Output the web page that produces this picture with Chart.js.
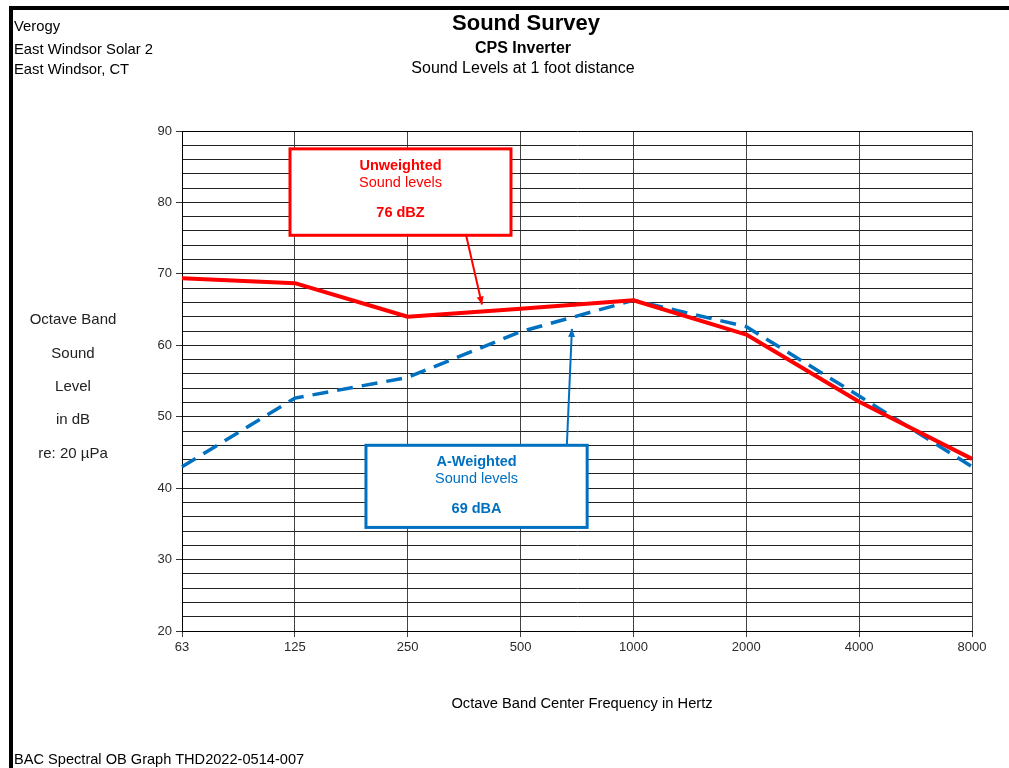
<!DOCTYPE html>
<html>
<head>
<meta charset="utf-8">
<script src="https://cdn.jsdelivr.net/npm/chart.js@4.4.0/dist/chart.umd.min.js"></script>
<style>
  html, body { margin: 0; padding: 0; background: #fff; }
  #page { position: relative; width: 1009px; height: 768px; overflow: hidden;
          font-family: "Liberation Sans", Arial, sans-serif; color: #000; }
  #frame { position: absolute; left: 9px; top: 6px; width: 1010px; height: 800px;
           border-top: 4px solid #000; border-left: 4px solid #000; }
  canvas { position: absolute; left: 0; top: 0; }
  .t { position: absolute; white-space: nowrap; transform: translateY(-50%); line-height: 1; }
  .c { transform: translate(-50%, -50%); }
</style>
</head>
<body>
<div id="page">
  <div id="frame"></div>
  <canvas id="chart" width="1009" height="768"></canvas>

  <div class="t" style="left:14px;top:26px;font-size:14.8px;">Verogy</div>
  <div class="t" style="left:14px;top:49px;font-size:14.8px;">East Windsor Solar 2</div>
  <div class="t" style="left:14px;top:69px;font-size:14.8px;">East Windsor, CT</div>

  <div class="t c" style="left:526px;top:23px;font-size:22px;font-weight:bold;">Sound Survey</div>
  <div class="t c" style="left:523px;top:48px;font-size:16px;font-weight:bold;">CPS Inverter</div>
  <div class="t c" style="left:523px;top:68px;font-size:16px;">Sound Levels at 1 foot distance</div>

  <div class="t c" style="left:73px;top:318px;font-size:15px;color:#222;">Octave Band</div>
  <div class="t c" style="left:73px;top:352px;font-size:15px;color:#222;">Sound</div>
  <div class="t c" style="left:73px;top:385px;font-size:15px;color:#222;">Level</div>
  <div class="t c" style="left:73px;top:418px;font-size:15px;color:#222;">in dB</div>
  <div class="t c" style="left:73px;top:452px;font-size:15px;color:#222;">re: 20 µPa</div>

  <div class="t c" style="left:582px;top:703px;font-size:14.7px;">Octave Band Center Frequency in Hertz</div>
  <div class="t" style="left:14px;top:759px;font-size:14.6px;">BAC Spectral OB Graph THD2022-0514-007</div>
</div>

<script>
// Octave band centre frequencies (Hz)
const frequencies = ['63', '125', '250', '500', '1000', '2000', '4000', '8000'];

// Measured octave band levels, dB re 20 µPa
const unweightedLevels = [69.4, 68.7, 64.0, 65.1, 66.3, 61.5, 52.1, 44.1];
const aWeightedLevels  = [43.0, 52.6, 55.5, 61.9, 66.3, 62.6, 52.9, 43.0];

// Overall levels shown in the callouts
const overallLabels = ['76 dBZ', '69 dBA'];

// Vertical axis range and grid step
const yMin = 20, yMax = 90, yStep = 2, yLabelStep = 10;

const RED = '#FF0000';
const BLUE = '#0070C0';

// Callout boxes in chart coordinates (x = band index, y = dB)
const callouts = [
  { color: RED,  title: 'Unweighted', sub: 'Sound levels', value: overallLabels[0],
    x0: 0.957, x1: 2.915, y0: 87.5, y1: 75.4,
    arrow: { fx: 2.516, fy: 75.5, tx: 2.658, ty: 65.7 } },
  { color: BLUE, title: 'A-Weighted', sub: 'Sound levels', value: overallLabels[1],
    x0: 1.63, x1: 3.59, y0: 46.0, y1: 34.5,
    arrow: { fx: 3.41, fy: 46.0, tx: 3.455, ty: 62.3 } }
];

const calloutPlugin = {
  id: 'callouts',
  afterDatasetsDraw(chart) {
    const { ctx, scales: { x, y } } = chart;
    ctx.save();
    callouts.forEach(c => {
      const left = x.getPixelForValue(c.x0), right = x.getPixelForValue(c.x1);
      const top = y.getPixelForValue(c.y0), bottom = y.getPixelForValue(c.y1);
      // arrow
      const ax = x.getPixelForValue(c.arrow.fx), ay = y.getPixelForValue(c.arrow.fy);
      const bx = x.getPixelForValue(c.arrow.tx), by = y.getPixelForValue(c.arrow.ty);
      ctx.strokeStyle = c.color;
      ctx.fillStyle = c.color;
      ctx.lineWidth = 2;
      ctx.beginPath(); ctx.moveTo(ax, ay); ctx.lineTo(bx, by); ctx.stroke();
      const ang = Math.atan2(by - ay, bx - ax);
      const hl = 8, hw = 3.5;
      ctx.beginPath();
      ctx.moveTo(bx, by);
      ctx.lineTo(bx - hl * Math.cos(ang) + hw * Math.sin(ang), by - hl * Math.sin(ang) - hw * Math.cos(ang));
      ctx.lineTo(bx - hl * Math.cos(ang) - hw * Math.sin(ang), by - hl * Math.sin(ang) + hw * Math.cos(ang));
      ctx.closePath(); ctx.fill();
      // box
      ctx.fillStyle = '#fff';
      ctx.fillRect(left, top, right - left, bottom - top);
      ctx.lineWidth = 3;
      ctx.strokeStyle = c.color;
      ctx.strokeRect(left, top, right - left, bottom - top);
      // text
      const cx = (left + right) / 2;
      ctx.fillStyle = c.color;
      ctx.textAlign = 'center';
      ctx.textBaseline = 'middle';
      ctx.font = 'bold 14.5px "Liberation Sans", Arial, sans-serif';
      ctx.fillText(c.title, cx, top + 17);
      ctx.font = '14.5px "Liberation Sans", Arial, sans-serif';
      ctx.fillText(c.sub, cx, top + 34);
      ctx.font = 'bold 14.5px "Liberation Sans", Arial, sans-serif';
      ctx.fillText(c.value, cx, top + 64);
    });
    ctx.restore();
  }
};

new Chart(document.getElementById('chart'), {
  type: 'line',
  data: {
    labels: frequencies,
    datasets: [
      { label: 'Unweighted', data: unweightedLevels, borderColor: RED, borderWidth: 4,
        pointRadius: 0, tension: 0, fill: false, borderJoinStyle: 'round' },
      { label: 'A-Weighted', data: aWeightedLevels, borderColor: BLUE, borderWidth: 3.5,
        borderDash: [16, 9], pointRadius: 0, tension: 0, fill: false }
    ]
  },
  options: {
    responsive: false,
    devicePixelRatio: 1,
    animation: false,
    layout: { padding: { left: 140, right: 37, top: 131, bottom: 107 } },
    plugins: { legend: { display: false }, tooltip: { enabled: false } },
    scales: {
      x: {
        type: 'category',
        offset: false,
        afterFit(scale) { scale.height = 30; },
        grid: { color: '#444', lineWidth: 1, tickLength: 6, tickColor: '#444', drawOnChartArea: true },
        border: { display: true, color: '#000', width: 1 },
        ticks: { color: '#2a2a2a', padding: 3, maxRotation: 0, autoSkip: false,
                 font: { family: '"Liberation Sans", Arial, sans-serif', size: 13 } }
      },
      y: {
        min: yMin, max: yMax,
        afterFit(scale) { scale.width = 42; },
        grid: {
          color: ctx => (ctx.tick && ctx.tick.value === yMax) ? '#000' : '#222',
          lineWidth: 1, tickLength: 6,
          tickColor: ctx => (ctx.tick && ctx.tick.value % yLabelStep === 0) ? '#333' : 'rgba(0,0,0,0)'
        },
        border: { display: true, color: '#000', width: 1 },
        ticks: {
          stepSize: yStep, autoSkip: false, padding: 4, color: '#2a2a2a',
          font: { family: '"Liberation Sans", Arial, sans-serif', size: 13 },
          callback: v => (v % yLabelStep === 0 ? String(v) : '')
        }
      }
    }
  },
  plugins: [calloutPlugin]
});
</script>
</body>
</html>
